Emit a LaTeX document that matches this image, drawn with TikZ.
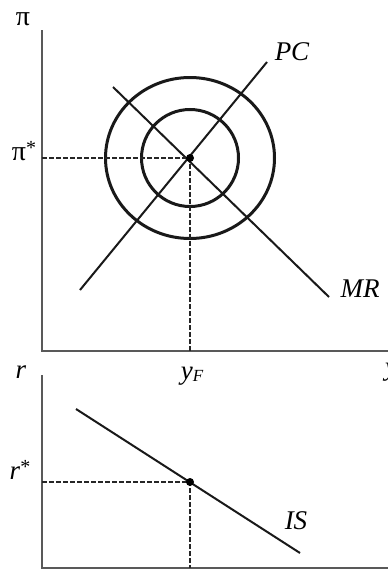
\documentclass[tikz,border=0pt]{standalone}
\usepackage{fontspec}
\setmainfont{Liberation Serif}
\begin{document}
\begin{tikzpicture}[x=1pt,y=-1pt,
  axis/.style={draw=black!65, line width=2pt},
  curve/.style={draw=black!90, line width=2pt},
  ring/.style={draw=black!90, line width=3pt},
  guide/.style={draw=black!85, line width=1.3pt, dash pattern=on 4.5pt off 2.5pt},
  lbl/.style={font=\fontsize{27}{28}\selectfont\itshape, inner sep=0pt},
  glbl/.style={font=\fontsize{28}{28}\selectfont, inner sep=0pt}]
\useasboundingbox (0,0) rectangle (388,570);
% ---------- upper panel ----------
\coordinate (T) at (42,30);
\coordinate (O1) at (42,351);
\coordinate (X1) at (392,351);
\draw[axis] (T) -- (O1) -- (X1);
\coordinate (E1) at (190,158);
\coordinate (P1) at (42,158);
\coordinate (B1) at (190,351);
\draw[ring] (E1) ellipse (84.5 and 80.5);
\draw[ring] (E1) circle (48.5);
\coordinate (PCa) at (80,290);
\coordinate (PCb) at (267,62);
\coordinate (MRa) at (113,87);
\coordinate (MRb) at (329,297);
\draw[curve] (PCa) -- (PCb);
\draw[curve] (MRa) -- (MRb);
\draw[guide] (P1) -- (E1) -- (B1);
\fill (E1) circle (4);
\node[glbl] (pi) at (23,19) {π};
\node[glbl] (pistar) at (24,151) {π\raisebox{0.45ex}{\fontsize{20}{20}\selectfont *}};
\node[lbl] (pc) at (292,52) {PC};
\node[lbl] (mr) at (360,289) {MR};
\node[lbl] (yf) at (192,376) {y\raisebox{-0.2ex}{\fontsize{17}{17}\selectfont F}};
\node[lbl] (ylab) at (391,372) {y};
% ---------- lower panel ----------
\coordinate (T2) at (42,375);
\coordinate (O2) at (42,568);
\coordinate (X2) at (392,568);
\draw[axis] (T2) -- (O2) -- (X2);
\coordinate (ISa) at (76,409);
\coordinate (ISb) at (300,553);
\draw[curve] (ISa) -- (ISb);
\coordinate (E2) at (190,482);
\coordinate (P2) at (42,482);
\coordinate (B2) at (190,568);
\draw[guide] (P2) -- (E2) -- (B2);
\fill (E2) circle (4);
\node[lbl] (r) at (21,372) {r};
\node[lbl] (rstar) at (20,470) {r\raisebox{0.45ex}{\fontsize{20}{20}\selectfont\upshape *}};
\node[lbl] (is) at (296,521) {IS};
\end{tikzpicture}
\end{document}
